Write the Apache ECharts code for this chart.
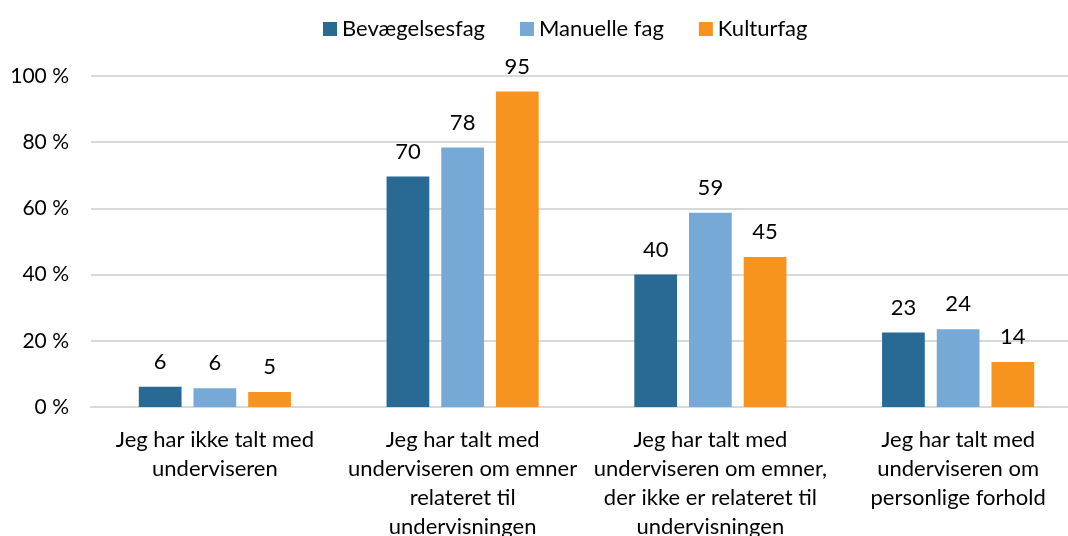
<!DOCTYPE html>
<html>
<head>
<meta charset="utf-8">
<script src="https://cdn.jsdelivr.net/npm/echarts@6/dist/echarts.min.js"></script>
<style>
  html, body { margin: 0; padding: 0; background: #fff; }
  #chart { width: 1068px; height: 536px; }
</style>
</head>
<body>
<div id="chart"></div>
<script>
const categories = [
  "Jeg har ikke talt med\nunderviseren",
  "Jeg har talt med\nunderviseren om emner\nrelateret til\nundervisningen",
  "Jeg har talt med\nunderviseren om emner,\nder ikke er relateret til\nundervisningen",
  "Jeg har talt med\nunderviseren om\npersonlige forhold"
];
const seriesNames = ["Bevægelsesfag", "Manuelle fag", "Kulturfag"];
const bevaegelsesfag = [6.1, 69.6, 40.0, 22.5];
const manuelleFag = [5.7, 78.4, 58.7, 23.5];
const kulturfag = [4.5, 95.3, 45.3, 13.6];
const yTicks = [0, 20, 40, 60, 80, 100];

const colors = ["#286A93", "#77A9D7", "#F79420"];
const font = "Lato, 'Open Sans', sans-serif";

const chart = echarts.init(document.getElementById("chart"));

const makeSeries = (name, data) => ({
  name: name,
  type: "bar",
  data: data,
  barGap: "28%",
  barCategoryGap: "38.6%",
  label: {
    show: true,
    position: "top",
    distance: 14,
    color: "#000",
    fontSize: 22,
    fontFamily: font,
    formatter: (p) => Math.round(p.value)
  }
});

const option = {
  animation: false,
  color: colors,
  textStyle: { fontFamily: font },
  legend: {
    data: seriesNames,
    top: 13,
    left: 318,
    icon: "rect",
    itemWidth: 14,
    itemHeight: 14,
    itemGap: 35,
    textStyle: { color: "#000", fontSize: 22, fontFamily: font }
  },
  grid: {
    left: 91,
    width: 991,
    top: 76,
    bottom: 129,
    containLabel: false,
    outerBoundsMode: "none"
  },
  xAxis: {
    type: "category",
    data: categories,
    axisLine: { show: true, lineStyle: { color: "#D9D9D9", width: 2 } },
    axisTick: { show: false },
    axisLabel: {
      color: "#000",
      fontSize: 22,
      fontFamily: font,
      lineHeight: 29,
      margin: 18,
      interval: 0
    }
  },
  yAxis: {
    type: "value",
    min: yTicks[0],
    max: yTicks[yTicks.length - 1],
    interval: 20,
    axisLine: { show: false },
    axisTick: { show: false },
    axisLabel: {
      color: "#000",
      fontSize: 21,
      fontFamily: font,
      margin: 22,
      formatter: (v) => v + " %"
    },
    splitLine: { lineStyle: { color: "#D9D9D9", width: 2 } }
  },
  series: [
    makeSeries(seriesNames[0], bevaegelsesfag),
    makeSeries(seriesNames[1], manuelleFag),
    makeSeries(seriesNames[2], kulturfag)
  ]
};

chart.setOption(option);
</script>
</body>
</html>
